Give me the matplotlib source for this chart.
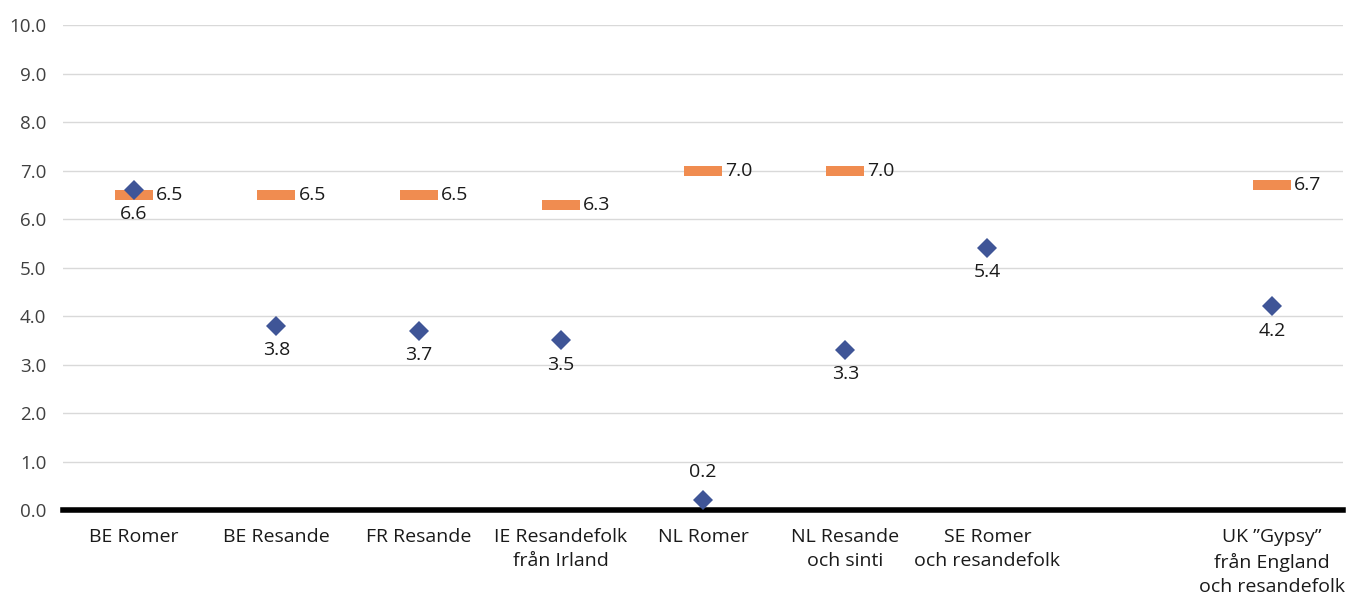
import numpy as np
import matplotlib.pyplot as plt

plt.rcParams['font.family'] = ['Open Sans', 'DejaVu Sans']

categories = ['BE Romer', 'BE Resande', 'FR Resande', 'IE Resandefolk\nfrån Irland',
              'NL Romer', 'NL Resande\noch sinti', 'SE Romer\noch resandefolk', '',
              'UK \u201dGypsy\u201d\nfrån England\noch resandefolk']
group_values = [6.6, 3.8, 3.7, 3.5, 0.2, 3.3, 5.4, np.nan, 4.2]
reference_values = [6.5, 6.5, 6.5, 6.3, 7.0, 7.0, np.nan, np.nan, 6.7]
above_labels = ['NL Romer']

blue = '#3F5597'
orange = '#F08C50'

fig = plt.figure(figsize=(13.52, 5.97), dpi=100)
ax = fig.add_axes([0.0466, 0.1457, 0.9467, 0.8123])

x = np.arange(len(categories))
bar_marker = [(-2, -0.5), (2, -0.5), (2, 0.5), (-2, 0.5), (-2, -0.5)]

ax.plot(x, reference_values, linestyle='none', marker=bar_marker, markersize=28,
        color=orange, markeredgewidth=0, zorder=3)
ax.plot(x, group_values, linestyle='none', marker='D', markersize=10,
        color=blue, markeredgewidth=0, zorder=4)

for i, v in enumerate(reference_values):
    if not np.isnan(v):
        ax.annotate(f'{v:.1f}', (x[i], v), xytext=(16, 0), textcoords='offset points',
                    ha='left', va='center', fontsize=14, color='#1a1a1a', zorder=5)
for i, v in enumerate(group_values):
    if np.isnan(v):
        continue
    if categories[i] in above_labels:
        ax.annotate(f'{v:.1f}', (x[i], v), xytext=(0, 14), textcoords='offset points',
                    ha='center', va='bottom', fontsize=14, color='#1a1a1a', zorder=5)
    else:
        ax.annotate(f'{v:.1f}', (x[i], v), xytext=(0, -11), textcoords='offset points',
                    ha='center', va='top', fontsize=14, color='#1a1a1a', zorder=5)

ax.set_xlim(-0.5, len(categories) - 0.5)
ax.set_ylim(0, 10)
ax.set_yticks(np.arange(0, 11, 1))
ax.set_yticklabels([f'{t:.1f}' for t in np.arange(0, 11, 1)], fontsize=13.5, color='#404040')
ax.set_xticks(x)
ax.set_xticklabels(categories, fontsize=14, color='#1a1a1a', linespacing=1.45)
ax.tick_params(axis='both', length=0)
ax.tick_params(axis='x', pad=13)
ax.tick_params(axis='y', pad=12)

ax.grid(axis='y', color='#d9d9d9', linewidth=1)
ax.set_axisbelow(True)
for s in ['left', 'right', 'top']:
    ax.spines[s].set_visible(False)
ax.spines['bottom'].set_linewidth(4)
ax.spines['bottom'].set_color('black')
ax.spines['bottom'].set_zorder(2)

fig.savefig('out.png', dpi=100)
